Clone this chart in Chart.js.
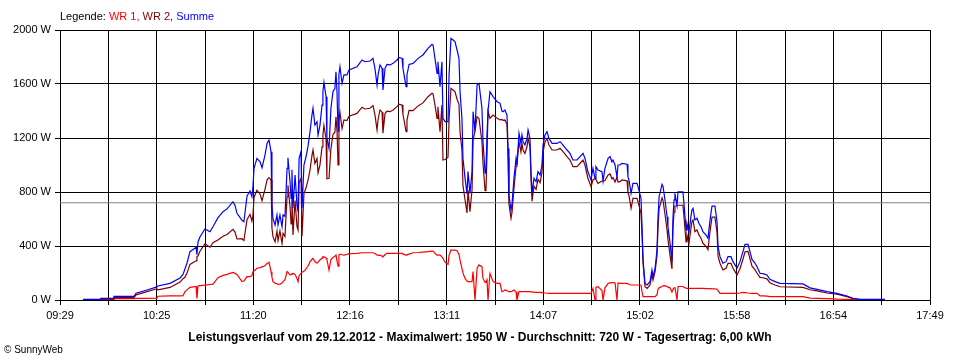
<!DOCTYPE html>
<html>
<head>
<meta charset="utf-8">
<title>Leistungsverlauf 29.12.2012</title>
<script src="https://cdn.jsdelivr.net/npm/chart.js@4/dist/chart.umd.min.js"></script>
<style>
body { margin: 0; background: #fff; }
#wrap { position: relative; width: 960px; height: 360px; font-family: "Liberation Sans", Arial, sans-serif; color: #000; }
#chart { position: absolute; left: 0; top: 0; }
#legende { position: absolute; left: 60px; top: 10px; font-size: 11px; white-space: nowrap; }
#titel { position: absolute; left: 0; width: 960px; top: 330px; text-align: center; font-size: 12px; font-weight: bold; white-space: nowrap; }
#copy { position: absolute; left: 4px; top: 344px; font-size: 10px; }
</style>
</head>
<body>
<div id="wrap">
    <canvas id="chart" width="960" height="360"></canvas>
    <div id="legende">Legende: <span style="color:#ff0000">WR 1,</span> <span style="color:#800000">WR 2,</span> <span style="color:#0000ff">Summe</span></div>
    <div id="titel">Leistungsverlauf vom 29.12.2012 - Maximalwert: 1950 W - Durchschnitt: 720 W - Tagesertrag: 6,00 kWh</div>
    <div id="copy">&copy; SunnyWeb</div>
</div>
<script>
// Achsenbeschriftung
var zeitLabels = ['09:29', '10:25', '11:20', '12:16', '13:11', '14:07', '15:02', '15:58', '16:54', '17:49'];
var zeitStart = 569;   // 09:29 in Minuten
var zeitEnde = 1069;   // 17:49 in Minuten
var durchschnitt = 720;

// Messzeitpunkte (Minuten seit 0:00)
var zeit = [
    582.2, 592.0, 592.6, 599.5, 600.0, 611.5, 612.7, 619.0, 624.7, 625.3, 632.2, 638.0, 639.7, 640.8, 642.0, 643.7, 647.2, 647.7, 648.3, 649.5,
    652.3, 655.2, 656.9, 659.8, 662.7, 665.0, 668.4, 669.6, 670.7, 673.6, 674.7, 676.5, 678.2, 679.3, 679.9, 680.5, 682.2, 684.0, 685.1, 685.7,
    686.8, 688.0, 689.1, 690.3, 690.8, 691.4, 692.6, 693.7, 694.3, 695.4, 696.6, 697.2, 698.3, 699.5, 700.0, 701.2, 701.8, 702.3, 702.9, 704.1,
    705.2, 705.8, 706.4, 707.5, 708.1, 709.2, 710.4, 711.5, 712.7, 713.8, 714.4, 715.5, 716.7, 717.3, 718.4, 719.6, 720.1, 720.7, 721.9, 722.4,
    723.6, 724.7, 725.9, 727.0, 727.6, 728.2, 728.8, 729.3, 729.9, 730.5, 731.1, 732.2, 733.9, 735.1, 739.7, 742.6, 744.3, 747.2, 748.9, 750.0,
    751.2, 751.8, 752.9, 754.1, 754.6, 755.8, 756.9, 758.7, 760.4, 762.7, 763.8, 765.6, 766.1, 767.9, 768.4, 769.6, 771.9, 774.8, 777.6, 780.5,
    782.8, 783.4, 784.5, 785.7, 786.2, 787.4, 788.5, 789.1, 790.3, 792.0, 792.6, 793.7, 794.9, 796.0, 797.2, 798.3, 798.9, 800.0, 800.6, 801.8,
    802.9, 803.5, 804.6, 805.8, 806.4, 807.5, 808.7, 809.8, 811.5, 812.1, 813.3, 813.8, 814.4, 815.0, 816.1, 817.9, 820.2, 821.9, 823.0, 823.6,
    824.7, 825.9, 826.5, 827.0, 828.2, 828.8, 829.9, 831.1, 831.6, 832.8, 833.9, 834.5, 835.1, 836.2, 837.4, 838.0, 839.1, 839.7, 840.3, 841.4,
    842.6, 843.7, 844.9, 846.0, 846.6, 847.7, 848.9, 850.0, 851.8, 854.6, 856.4, 858.1, 860.4, 862.1, 863.8, 866.1, 867.9, 869.6, 870.7, 872.4,
    874.2, 875.3, 876.5, 877.0, 878.2, 880.5, 881.1, 882.2, 884.0, 885.1, 886.2, 886.8, 888.0, 889.1, 889.7, 890.8, 892.0, 894.9, 895.4, 896.0,
    897.2, 898.3, 900.6, 901.2, 902.9, 903.5, 904.1, 905.2, 906.4, 908.1, 909.2, 909.8, 911.0, 912.1, 912.7, 913.3, 915.0, 915.6, 916.7, 917.9,
    918.4, 919.6, 920.7, 921.3, 921.9, 922.4, 923.6, 924.2, 927.0, 927.6, 928.8, 929.3, 930.5, 931.6, 932.2, 932.8, 933.9, 935.1, 936.2, 937.4,
    938.5, 940.3, 941.4, 942.6, 943.7, 945.4, 946.6, 947.2, 948.3, 950.0, 951.8, 952.9, 954.6, 955.8, 958.1, 959.8, 961.5, 962.7, 964.4, 966.7,
    968.4, 969.6, 971.3, 973.0, 975.3, 977.0, 979.9, 982.8, 996.0, 1000.0, 1004.1, 1009.8, 1015.5, 1021.3, 1024.7, 1028.8, 1043.1
];

// WR 1 (W)
var wr1 = [
    2, 2, 4, 4, 10, 10, 12, 12, 14, 28, 30, 30, 32, 62, 75, 94, 100, 12, 104, 106,
    110, 115, 118, 165, 182, 190, 205, 197, 190, 136, 140, 173, 173, 180, 210, 215, 235, 240, 245, 247,
    255, 270, 279, 210, 170, 136, 125, 120, 116, 118, 125, 136, 150, 210, 205, 185, 190, 195, 197, 190,
    160, 136, 180, 197, 205, 212, 230, 250, 284, 300, 309, 285, 272, 280, 296, 310, 321, 320, 312, 300,
    222, 300, 315, 325, 333, 290, 250, 333, 338, 338, 335, 333, 338, 343, 346, 350, 350, 350, 350, 345,
    333, 330, 333, 325, 321, 335, 346, 346, 346, 346, 346, 346, 340, 333, 335, 340, 350, 352, 355, 358,
    362, 362, 345, 333, 333, 333, 320, 309, 280, 264, 330, 370, 370, 370, 365, 340, 296, 235, 200, 160,
    140, 136, 136, 136, 210, 0, 235, 260, 247, 160, 130, 136, 150, 0, 197, 136, 123, 123, 62, 65,
    74, 70, 65, 62, 62, 65, 74, 60, 0, 62, 62, 62, 62, 62, 62, 62, 62, 60, 58, 58,
    57, 57, 57, 55, 55, 52, 50, 49, 49, 49, 49, 49, 49, 49, 49, 49, 49, 49, 49, 49,
    49, 86, 0, 95, 99, 70, 0, 90, 123, 128, 126, 130, 126, 0, 126, 123, 123, 123, 120, 115,
    111, 111, 111, 111, 111, 60, 25, 25, 25, 25, 25, 25, 25, 40, 80, 90, 100, 105, 106, 100,
    95, 90, 60, 80, 90, 95, 0, 100, 100, 95, 88, 86, 86, 86, 86, 86, 86, 86, 86, 86,
    86, 84, 84, 84, 82, 82, 80, 70, 49, 49, 49, 49, 49, 49, 49, 52, 56, 55, 52, 49,
    49, 49, 30, 30, 28, 25, 25, 25, 25, 14, 12, 10, 6, 5, 3, 2, 1
];

// WR 2 (W)
var wr2 = [
    3, 3, 8, 8, 17, 17, 38, 62, 83, 76, 93, 133, 158, 168, 199, 264, 290, 323, 326, 363,
    416, 391, 425, 445, 472, 485, 523, 503, 452, 454, 440, 597, 634, 585, 629, 760, 814, 784, 735, 765,
    819, 890, 906, 888, 533, 469, 431, 510, 440, 512, 418, 494, 470, 765, 849, 691, 563, 770, 482, 736,
    543, 518, 869, 901, 474, 788, 831, 886, 963, 1070, 1111, 1011, 1048, 942, 1000, 1134, 1222, 1292, 1194, 898,
    901, 1120, 1228, 1243, 1358, 1253, 1000, 1334, 1390, 1329, 1270, 1334, 1329, 1361, 1382, 1428, 1415, 1420, 1440, 1371,
    1260, 1337, 1408, 1391, 1235, 1381, 1399, 1395, 1407, 1432, 1451, 1444, 1376, 1247, 1332, 1405, 1403, 1438, 1460, 1506,
    1532, 1527, 1445, 1346, 1432, 1247, 1445, 1037, 1041, 1057, 1337, 1568, 1556, 1544, 1487, 1450, 1247, 1111, 849, 741,
    645, 815, 654, 815, 1185, 1250, 1358, 1345, 1173, 1013, 810, 815, 1072, 1400, 1346, 1370, 1346, 1334, 1338, 1330,
    1333, 1300, 1058, 716, 605, 650, 827, 989, 1000, 1173, 1098, 1160, 1111, 1086, 1135, 1197, 1135, 891, 732, 843,
    819, 894, 869, 945, 1093, 1170, 1197, 1148, 1111, 1111, 1124, 1099, 1062, 1037, 988, 988, 1013, 1037, 1000, 902,
    840, 889, 900, 893, 864, 881, 880, 885, 926, 934, 898, 907, 874, 910, 874, 877, 889, 883, 793, 774,
    679, 753, 753, 729, 642, 483, 271, 98, 86, 111, 197, 148, 210, 330, 537, 675, 757, 735, 635, 517,
    448, 330, 230, 537, 651, 695, 700, 702, 702, 621, 430, 482, 420, 531, 581, 593, 507, 519, 482, 457,
    420, 397, 373, 509, 614, 614, 500, 325, 272, 223, 235, 272, 272, 235, 186, 232, 302, 357, 360, 251,
    225, 198, 168, 165, 157, 128, 111, 98, 94, 76, 67, 52, 43, 25, 9, 3, 3
];

// Summe (W)
var summe = [
    5, 5, 12, 12, 27, 27, 50, 74, 97, 104, 123, 163, 190, 230, 274, 358, 390, 335, 430, 469,
    526, 506, 543, 610, 654, 675, 728, 700, 642, 590, 580, 770, 807, 765, 839, 975, 1049, 1024, 980, 1012,
    1074, 1160, 1185, 1098, 703, 605, 556, 630, 556, 630, 543, 630, 620, 975, 1054, 876, 753, 965, 679, 926,
    703, 654, 1049, 1098, 679, 1000, 1061, 1136, 1247, 1370, 1420, 1296, 1320, 1222, 1296, 1444, 1543, 1612, 1506, 1198,
    1123, 1420, 1543, 1568, 1691, 1543, 1250, 1667, 1728, 1667, 1605, 1667, 1667, 1704, 1728, 1778, 1765, 1770, 1790, 1716,
    1593, 1667, 1741, 1716, 1556, 1716, 1745, 1741, 1753, 1778, 1797, 1790, 1716, 1580, 1667, 1745, 1753, 1790, 1815, 1864,
    1894, 1889, 1790, 1679, 1765, 1580, 1765, 1346, 1321, 1321, 1667, 1938, 1926, 1914, 1852, 1790, 1543, 1346, 1049, 901,
    785, 951, 790, 951, 1395, 1250, 1593, 1605, 1420, 1173, 940, 951, 1222, 1400, 1543, 1506, 1469, 1457, 1400, 1395,
    1407, 1370, 1123, 778, 667, 715, 901, 1049, 1000, 1235, 1160, 1222, 1173, 1148, 1197, 1259, 1197, 951, 790, 901,
    876, 951, 926, 1000, 1148, 1222, 1247, 1197, 1160, 1160, 1173, 1148, 1111, 1086, 1037, 1037, 1062, 1086, 1049, 951,
    889, 975, 900, 988, 963, 951, 880, 975, 1049, 1062, 1024, 1037, 1000, 910, 1000, 1000, 1012, 1006, 913, 889,
    790, 864, 864, 840, 753, 543, 296, 123, 111, 136, 222, 173, 235, 370, 617, 765, 857, 840, 741, 617,
    543, 420, 290, 617, 741, 790, 700, 802, 802, 716, 518, 568, 506, 617, 667, 679, 593, 605, 568, 543,
    506, 481, 457, 593, 696, 696, 580, 395, 321, 272, 284, 321, 321, 284, 235, 284, 358, 412, 412, 300,
    274, 247, 198, 195, 185, 153, 136, 123, 119, 90, 79, 62, 49, 30, 12, 5, 4
];

function punkte(werte) {
    var arr = [];
    for (var i = 0; i < zeit.length; i++) {
        arr.push({ x: zeit[i], y: werte[i] });
    }
    return arr;
}

var schrift = { family: '"Liberation Sans", Arial, sans-serif', size: 11 };

var config = {
    type: 'line',
    data: {
        datasets: [
            { label: 'Summe', data: punkte(summe), borderColor: '#0000ff', order: 0 },
            { label: 'WR 2', data: punkte(wr2), borderColor: '#800000', order: 1 },
            { label: 'WR 1', data: punkte(wr1), borderColor: '#ff0000', order: 2 },
            { label: 'Durchschnitt', data: [{ x: zeitStart, y: durchschnitt }, { x: zeitEnde, y: durchschnitt }], borderColor: '#808080', borderWidth: 1, order: 3 }
        ]
    },
    options: {
        responsive: false,
        animation: false,
        devicePixelRatio: 1,
        elements: {
            point: { radius: 0 },
            line: { borderWidth: 1.2, tension: 0 }
        },
        layout: { padding: { top: 30, right: 30, left: 0, bottom: 0 } },
        plugins: {
            legend: { display: false },
            tooltip: { enabled: false }
        },
        scales: {
            x: {
                type: 'linear',
                min: zeitStart,
                max: zeitEnde,
                afterBuildTicks: function (s) {
                    var t = [];
                    for (var i = 0; i <= 18; i++) {
                        t.push({ value: zeitStart + i * (zeitEnde - zeitStart) / 18 });
                    }
                    s.ticks = t;
                },
                afterFit: function (s) { s.height = 60; },
                grid: { color: '#000', lineWidth: 1, tickLength: 5 },
                border: { color: '#000', width: 1 },
                ticks: {
                    autoSkip: false,
                    maxRotation: 0,
                    color: '#000',
                    font: schrift,
                    padding: 4,
                    callback: function (v, i) {
                        return i % 2 == 0 ? zeitLabels[i / 2] : '';
                    }
                }
            },
            y: {
                min: 0,
                max: 2000,
                afterFit: function (s) { s.width = 60; },
                grid: { color: '#000', lineWidth: 1, tickLength: 5 },
                border: { color: '#000', width: 1 },
                ticks: {
                    stepSize: 400,
                    color: '#000',
                    font: schrift,
                    padding: 4,
                    callback: function (v) { return v + ' W'; }
                }
            }
        }
    }
};

var chart = new Chart(document.getElementById('chart'), config);
</script>
</body>
</html>
